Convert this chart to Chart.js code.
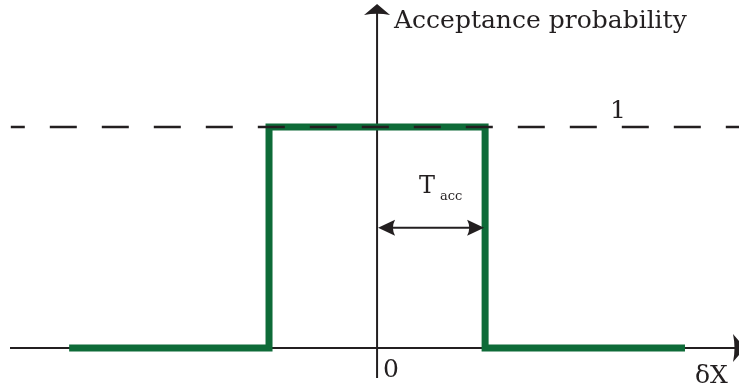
<!DOCTYPE html>
<html>
<head>
<meta charset="utf-8">
<script src="https://cdn.jsdelivr.net/npm/chart.js@4"></script>
<style>
  html, body { margin: 0; padding: 0; background: #fff; }
  #wrap { width: 739px; height: 387px; }
</style>
</head>
<body>
<div id="wrap"><canvas id="accept" width="739" height="387"></canvas></div>
<script>
// step profile of the acceptance probability
const stepX = [-2.85, -1, -1, 1, 1, 2.85]
const stepY = [0, 0, 1, 1, 0, 0]
// dashed reference level
const levelX = [-3.39, 3.35]
const levelY = [1, 1]
const tickLabels = ['0', '1']
const yTitle = 'Acceptance probability'
const xTitle = 'δX'
const tAcc = 1

const ink = '#231f20'
const green = '#0e6b38'
const serif = '"DejaVu Serif", "Liberation Serif", serif'

function arrowHead (ctx, x, y, dir, len, half) {
  // dir: unit vector the tip points to
  const [dx, dy] = dir
  const px = -dy, py = dx
  const bx = x - dx * len, by = y - dy * len
  ctx.beginPath()
  ctx.moveTo(x, y)
  ctx.lineTo(bx + px * half, by + py * half)
  ctx.quadraticCurveTo(x - dx * len * 0.75, y - dy * len * 0.75, bx - px * half, by - py * half)
  ctx.closePath()
  ctx.fill()
}

const decorations = {
  id: 'decorations',
  beforeDatasetsDraw (chart) {
    const ctx = chart.ctx
    const xs = chart.scales.x, ys = chart.scales.y
    const x0 = xs.getPixelForValue(0)
    const y0 = ys.getPixelForValue(0)
    ctx.save()
    ctx.strokeStyle = ink
    ctx.fillStyle = ink
    ctx.lineWidth = 2
    // x axis
    ctx.beginPath()
    ctx.moveTo(10, y0)
    ctx.lineTo(735, y0)
    ctx.stroke()
    arrowHead(ctx, 745, y0, [1, 0], 12, 14)
    // y axis
    ctx.beginPath()
    ctx.moveTo(x0, 378)
    ctx.lineTo(x0, 12)
    ctx.stroke()
    arrowHead(ctx, x0, 4, [0, -1], 11, 13)
    ctx.restore()
  },
  afterDatasetsDraw (chart) {
    const ctx = chart.ctx
    const xs = chart.scales.x, ys = chart.scales.y
    const x0 = xs.getPixelForValue(0)
    const y1 = ys.getPixelForValue(1)
    const xt = xs.getPixelForValue(tAcc)
    ctx.save()
    ctx.fillStyle = ink
    ctx.strokeStyle = ink
    // T_acc double arrow
    const ya = ys.getPixelForValue(0.545)
    ctx.lineWidth = 2
    ctx.beginPath()
    ctx.moveTo(x0 + 10, ya)
    ctx.lineTo(xt - 10, ya)
    ctx.stroke()
    arrowHead(ctx, x0 + 1, ya, [-1, 0], 17, 8)
    arrowHead(ctx, xt - 1, ya, [1, 0], 17, 8)
    // texts
    ctx.textBaseline = 'alphabetic'
    ctx.textAlign = 'left'
    ctx.font = '25px ' + serif
    ctx.fillText(yTitle, x0 + 17, 28)
    ctx.fillText(xTitle, 695, 383)
    ctx.fillText(tickLabels[0], x0 + 6, 377)
    ctx.fillText(tickLabels[1], 610, y1 - 9)
    ctx.font = '24px ' + serif
    ctx.fillText('T', 419, 193)
    ctx.font = '13px ' + serif
    ctx.fillText('acc', 440, 200)
    ctx.restore()
  }
}

new Chart(document.querySelector('#accept'), {
  type: 'line',
  plugins: [decorations],
  data: {
    datasets: [{
      label: 'threshold',
      data: levelX.map((x, i) => ({ x: x, y: levelY[i] })),
      borderColor: ink,
      borderWidth: 2.5,
      borderDash: [27, 25],
      borderDashOffset: 13,
      pointRadius: 0,
      order: 1
    }, {
      label: 'acceptance',
      data: stepX.map((x, i) => ({ x: x, y: stepY[i] })),
      borderColor: green,
      borderWidth: 7,
      borderJoinStyle: 'miter',
      borderCapStyle: 'butt',
      pointRadius: 0,
      tension: 0,
      order: 2
    }]
  },
  options: {
    responsive: false,
    animation: false,
    layout: { padding: 0 },
    scales: {
      x: { type: 'linear', min: -3.49, max: 3.35, display: false },
      y: { type: 'linear', min: -0.176, max: 1.575, display: false }
    },
    plugins: {
      legend: { display: false },
      tooltip: { enabled: false }
    }
  }
})
</script>
</body>
</html>
